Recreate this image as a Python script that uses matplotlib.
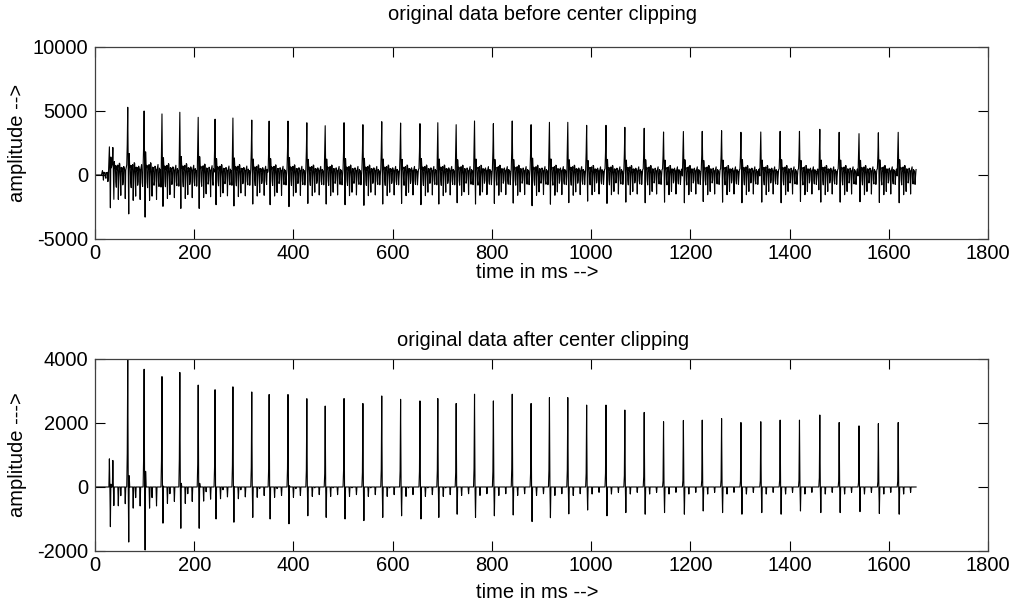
import numpy as np
import matplotlib
matplotlib.use("Agg")
import matplotlib.pyplot as plt

plt.rcParams['font.family'] = ['Liberation Sans', 'DejaVu Sans']
plt.rcParams['axes.unicode_minus'] = False

# ---- data ----
# onset (voicing start) pulses, ms / amplitude
onset_times = [15, 29, 36]
onset_peaks = [350, 2200, 2150]
onset_troughs = [-400, -2560, -1900]
onset_ripple = [350, 1300, 1300]

# main pitch pulses (ms)
pulse_times = [66, 99, 135, 171, 208, 242, 278, 316, 351, 389, 427, 464,
               502, 540, 578, 616, 655, 691, 728, 765, 803, 841, 879, 916,
               953, 991, 1030, 1068, 1107, 1146, 1186, 1224, 1263, 1302, 1342,
               1381, 1420, 1461, 1500, 1540, 1579, 1619]
# peak amplitude of each pulse in the original signal
pulse_peaks = [5290, 5000, 4770, 4900, 4505, 4360, 4450, 4290, 4210, 4210, 4080, 3850,
               4085, 3930, 4165, 4060, 4010, 4085, 3930, 4220, 4010, 4220, 3930, 4115,
               4115, 3880, 3880, 3725, 3650, 3360, 3400, 3410, 3460, 3335, 3360,
               3410, 3410, 3570, 3335, 3230, 3300, 3335]
# deepest trough right after each pulse in the original signal
pulse_troughs = [-3040, -3290, -2450, -2610, -2610, -2320, -2420, -2270, -2320, -2470,
                 -2220, -2270, -2320, -2370, -2270, -2220, -2320, -2270, -2170, -2270,
                 -2220, -2195, -2400, -2280, -2160, -2040, -2220, -2120, -2170, -2120,
                 -2170, -2070, -2120, -2170, -2120, -2170, -2070, -2120, -2120, -2090,
                 -2150, -2170]
# level of the ripple between pulses
pulse_ripple = [1350, 1350, 1250, 1250, 1200, 1150, 1150, 1120, 1120, 1120, 1100, 1100,
                1100, 1100, 1100, 1100, 1100, 1100, 1080, 1080, 1080, 1080, 1080, 1080,
                1080, 1050, 1050, 1050, 1050, 1050, 1050, 1050, 1050, 1050, 1050,
                1050, 1050, 1050, 1050, 1050, 1050, 1050]
signal_end = 1655      # ms
clip_level = 1320      # centre-clipping threshold

x_ticks = [0, 200, 400, 600, 800, 1000, 1200, 1400, 1600, 1800]
y_ticks_top = [-5000, 0, 5000, 10000]
y_ticks_bot = [-2000, 0, 2000, 4000]

# ---- build the waveform (1 sample per ms) ----
times = onset_times + pulse_times
peaks = onset_peaks + pulse_peaks
troughs = onset_troughs + pulse_troughs
ripples = onset_ripple + pulse_ripple

t = np.arange(0, signal_end + 1)
s = np.zeros_like(t, dtype=float)
bounds = times + [signal_end + 1]
for k in range(len(times)):
    n0, n1 = bounds[k], bounds[k + 1]
    tau = np.arange(n0, n1) - n0
    env = np.exp(-tau / 70.0) * (1 + 0.3 * np.cos(2 * np.pi * tau / 13.0))
    ph = 2 * np.pi * tau / 4.6 + 0.4
    s[n0:n1] = ripples[k] * env * (np.cos(ph) - 0.6 * np.cos(2 * ph))
for k in range(len(times)):
    n0 = times[k]
    A, D = peaks[k], troughs[k]
    s[n0 - 1] = 0.45 * A
    s[n0] = A
    s[n0 + 1] = 0.1 * A
    s[n0 + 2] = D
    s[n0 + 3] = -0.55 * D
s[:times[0] - 1] = 0

clipped = np.where(s > clip_level, s - clip_level,
                   np.where(s < -clip_level, s + clip_level, 0.0))

# ---- figure ----
W, H = 1011, 603
fig = plt.figure(figsize=(W / 100, H / 100), dpi=100)
ax1 = fig.add_axes([95 / W, (H - 239) / H, 893 / W, 192 / H])
ax2 = fig.add_axes([95 / W, (H - 551) / H, 893 / W, 192 / H])

fs = 14.5
specs = [
    (ax1, s, 'original data before center clipping', 'amplitude -->', y_ticks_top,
     15, 278, 143),
    (ax2, clipped, 'original data after center clipping', 'amplitude --->', y_ticks_bot,
     340, 598, 455),
]
for ax, y, title, ylab, yt, ty, xlb, yly in specs:
    ax.plot(t, y, color='black', lw=0.8)
    ax.set_xlim(0, 1800)
    ax.set_ylim(yt[0], yt[-1])
    ax.set_xticks(x_ticks)
    ax.set_yticks(yt)
    ax.tick_params(direction='in', top=True, right=True, length=7, width=0.8,
                   labelsize=fs, colors='black')
    ax.tick_params(axis='x', pad=3.5)
    ax.tick_params(axis='y', pad=5)
    for sp in ax.spines.values():
        sp.set_color('#404040')
        sp.set_linewidth(0.9)
    fig.text(543 / W, 1 - ty / H, title, fontsize=fs, ha='center', va='center')
    fig.text(537 / W, 1 - xlb / H, 'time in ms -->', fontsize=fs, ha='center',
             va='baseline')
    fig.text(18 / W, 1 - yly / H, ylab, fontsize=fs, ha='center', va='center',
             rotation=90)

fig.savefig('out.png', dpi=100)
